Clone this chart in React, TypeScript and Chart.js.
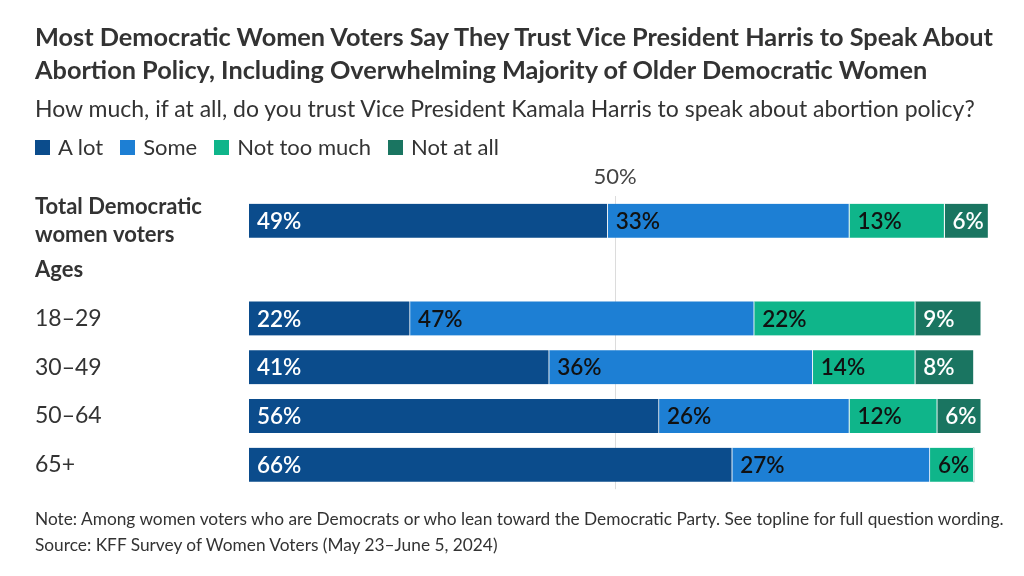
import React, { useEffect, useRef } from "react";
import { Chart, registerables } from "chart.js";

Chart.register(...registerables);

const FONT = "Lato, 'Noto Sans', sans-serif";
const TEXT = "#333333";

const categories: (string | string[])[] = [
  ["Total Democratic", "women voters"],
  "Ages",
  "18–29",
  "30–49",
  "50–64",
  "65+",
];
const seriesNames = ["A lot", "Some", "Not too much", "Not at all"];
const seriesColors = ["#0B4C8C", "#1D7FD4", "#0FB58A", "#1A7561"];
const aLot = [49, null, 22, 41, 56, 66];
const some = [33, null, 47, 36, 26, 27];
const notTooMuch = [13, null, 22, 14, 12, 6];
const notAtAll = [6, null, 9, 8, 6, 0];
const labelColors = ["#ffffff", "#111111", "#111111", "#ffffff"];
const xTickLabels = ["50%"];

const title = [
  "Most Democratic Women Voters Say They Trust Vice President Harris to Speak About",
  "Abortion Policy, Including Overwhelming Majority of Older Democratic Women",
];
const subtitle = "How much, if at all, do you trust Vice President Kamala Harris to speak about abortion policy?";
const notes = [
  "Note: Among women voters who are Democrats or who lean toward the Democratic Party. See topline for full question wording.",
  "Source: KFF Survey of Women Voters (May 23–June 5, 2024)",
];

const valueLabels = {
  id: "valueLabels",
  afterDatasetsDraw(chart: any) {
    const ctx = chart.ctx;
    ctx.save();
    ctx.font = `600 22.5px ${FONT}`;
    ctx.textAlign = "left";
    ctx.textBaseline = "middle";
    chart.data.datasets.forEach((ds: any, di: number) => {
      const meta = chart.getDatasetMeta(di);
      meta.data.forEach((el: any, i: number) => {
        const v = ds.data[i];
        if (v === null || v === undefined || v <= 0) return;
        const left = Math.min(el.base, el.x);
        ctx.fillStyle = labelColors[di];
        ctx.fillText(`${v}%`, left + 8, el.y + 1);
      });
    });
    ctx.restore();
  },
};

export default function App() {
  const ref = useRef<HTMLCanvasElement>(null);
  useEffect(() => {
    const datasets = [aLot, some, notTooMuch, notAtAll].map((d, i) => ({
      label: seriesNames[i],
      data: d,
      backgroundColor: seriesColors[i],
      borderColor: "#ffffff",
      borderWidth: { top: 0, bottom: 0, left: 0, right: 1 },
      borderSkipped: false,
      barThickness: 34,
    }));
    const chart = new Chart(ref.current!, {
      type: "bar",
      data: { labels: categories, datasets },
      plugins: [valueLabels],
      options: {
        indexAxis: "y",
        animation: false,
        responsive: false,
        layout: { padding: { left: 35, right: 35.5, top: 160, bottom: 86.8 } },
        plugins: {
          legend: { display: false },
          tooltip: { enabled: false },
          title: { display: false },
        },
        scales: {
          x: {
            type: "linear",
            position: "top",
            stacked: true,
            min: 0,
            max: 101,
            afterFit: (s: any) => {
              s.height = 36.4;
            },
            afterBuildTicks: (s: any) => {
              s.ticks = [{ value: 50 }];
            },
            border: { display: false },
            grid: {
              drawTicks: false,
              color: "#dcdcdc",
              lineWidth: 1,
            },
            ticks: {
              padding: 6,
              color: "#444444",
              font: { family: FONT, size: 22 },
              callback: () => xTickLabels[0],
            },
          },
          y: {
            stacked: true,
            afterFit: (s: any) => {
              s.width = 214;
            },
            border: { display: false },
            grid: { display: false, drawTicks: false },
            ticks: {
              autoSkip: false,
              crossAlign: "far",
              color: TEXT,
              padding: 0,
              font: (c: any) => ({
                family: FONT,
                size: c.index <= 1 ? 22 : 23,
                weight: c.index <= 1 ? "bold" : "normal",
                lineHeight: 1.3,
              }),
            },
          },
        },
      } as any,
    });
    return () => chart.destroy();
  }, []);

  return (
    <div
      style={{
        position: "absolute",
        left: 0,
        top: 0,
        width: 1024,
        height: 576,
        background: "#fff",
        fontFamily: FONT,
        color: TEXT,
        overflow: "hidden",
      }}
    >
      <canvas ref={ref} width={1024} height={576} style={{ position: "absolute", left: 0, top: 0 }} />
      <div
        style={{
          position: "absolute",
          left: 35,
          top: 20,
          fontSize: 25.3,
          lineHeight: "33px",
          fontWeight: 700,
          whiteSpace: "nowrap",
        }}
      >
        <div>{title[0]}</div>
        <div>{title[1]}</div>
      </div>
      <div style={{ position: "absolute", left: 35, top: 94, fontSize: 23, lineHeight: "28px", whiteSpace: "nowrap" }}>
        {subtitle}
      </div>
      <div
        style={{
          position: "absolute",
          left: 35,
          top: 133,
          fontSize: 22,
          lineHeight: "28px",
          display: "flex",
          alignItems: "center",
          whiteSpace: "nowrap",
        }}
      >
        {seriesNames.map((n, i) => (
          <div key={n} style={{ display: "flex", alignItems: "center", marginRight: 17 }}>
            <span style={{ display: "inline-block", width: 15, height: 15, background: seriesColors[i], marginRight: 8 }} />
            <span>{n}</span>
          </div>
        ))}
      </div>
      <div style={{ position: "absolute", left: 35, top: 506, fontSize: 17.3, lineHeight: "26px", whiteSpace: "nowrap" }}>
        <div>{notes[0]}</div>
        <div>{notes[1]}</div>
      </div>
    </div>
  );
}
